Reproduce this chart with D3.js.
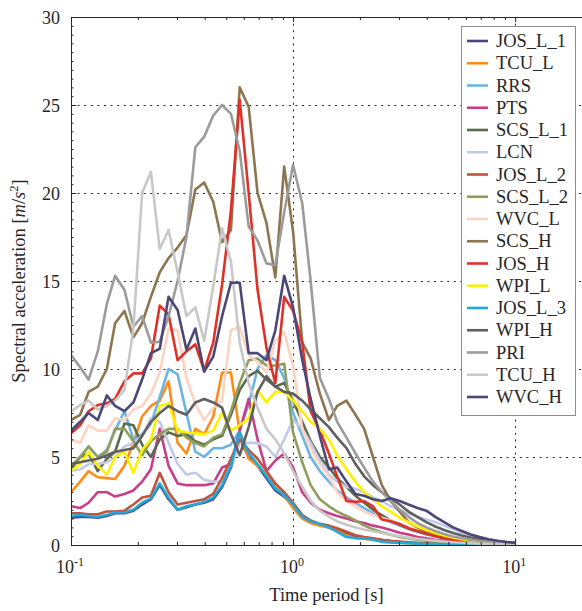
<!DOCTYPE html>
<html><head><meta charset="utf-8">
<script src="https://cdn.jsdelivr.net/npm/d3@7"></script>
<style>body{margin:0;background:#fff} text{font-family:"Liberation Serif","Times New Roman",serif;fill:#262626}</style>
</head><body><svg id="c" width="582" height="611"></svg>
<script>
// Periods (s)
const periods = [0.1,0.11,0.12,0.132,0.145,0.158,0.174,0.191,0.209,0.229,0.251,0.275,0.302,0.331,0.363,0.398,0.437,0.479,0.525,0.575,0.631,0.692,0.759,0.832,0.912,1.0,1.10,1.20,1.32,1.45,1.58,1.74,1.91,2.09,2.29,2.51,2.75,3.02,3.31,3.63,3.98,4.37,4.79,5.25,5.75,6.31,6.92,7.59,8.32,9.12,10.0];

// Spectral acceleration (m/s^2) per record
const JOS_L_1 = [1.55,1.6,1.6,1.55,1.65,1.8,1.8,1.95,2.3,2.6,3.4,2.6,2.0,2.15,2.3,2.4,2.6,3.3,4.4,6.0,5.0,4.5,3.8,3.1,2.75,2.2,1.55,1.3,1.15,1.0,0.85,0.65,0.5,0.42,0.35,0.28,0.22,0.17,0.13,0.1,0.08,0.06,0.05,0.04,0.035,0.03,0.025,0.02,0.02,0.015,0.01];
const TCU_L = [3.0,3.6,4.2,3.85,3.8,3.75,4.5,5.8,7.3,7.9,8.2,9.3,5.8,5.2,6.6,6.3,7.3,9.8,9.8,6.4,4.9,4.5,4.0,3.3,2.8,2.1,1.5,1.25,1.1,1.0,0.8,0.55,0.38,0.35,0.3,0.22,0.17,0.13,0.1,0.08,0.06,0.05,0.04,0.035,0.03,0.025,0.02,0.018,0.015,0.012,0.01];
const RRS = [4.4,5.0,5.6,5.0,5.4,6.5,7.6,6.0,6.3,6.9,8.4,10.0,9.7,7.5,5.3,5.0,5.5,5.5,5.7,6.5,8.0,10.0,10.8,10.5,9.5,7.5,6.2,5.0,4.2,3.6,3.1,2.7,2.4,2.1,1.8,1.5,1.3,1.1,0.9,0.75,0.6,0.5,0.4,0.3,0.25,0.2,0.15,0.12,0.1,0.08,0.06];
const PTS = [2.2,2.1,2.4,3.0,3.0,2.75,2.9,3.1,3.6,4.3,6.6,4.5,3.5,3.4,3.4,3.4,3.5,4.4,4.6,6.5,8.3,6.0,4.2,4.8,5.2,4.4,3.0,2.4,2.0,1.8,1.65,1.5,1.35,1.25,1.1,1.0,0.85,0.7,0.6,0.45,0.38,0.3,0.25,0.2,0.16,0.13,0.1,0.08,0.06,0.05,0.04];
const SCS_L_1 = [4.3,5.0,5.2,4.2,4.9,5.3,6.9,6.8,5.7,5.0,6.0,6.4,6.2,6.3,5.9,5.7,6.0,6.2,7.4,8.8,9.6,9.9,9.4,9.0,9.2,8.2,7.0,5.9,5.0,4.4,3.8,3.3,2.8,2.4,2.0,1.7,1.4,1.15,0.95,0.78,0.64,0.52,0.42,0.34,0.27,0.21,0.16,0.12,0.09,0.07,0.05];
const LCN = [4.2,4.3,4.6,4.6,4.7,5.0,5.6,5.8,6.2,7.2,7.0,5.8,4.6,4.0,4.1,3.7,3.6,3.6,4.5,5.8,5.8,5.8,5.6,5.0,6.0,7.1,6.6,5.8,4.8,4.0,3.6,3.3,3.2,3.0,2.7,2.5,2.2,2.0,1.8,1.6,1.45,1.3,1.1,0.9,0.7,0.55,0.42,0.32,0.24,0.18,0.13];
const JOS_L_2 = [1.8,1.8,1.75,1.75,1.9,1.9,1.95,2.3,2.7,2.8,4.1,3.0,2.3,2.4,2.5,2.6,2.9,3.8,4.9,6.0,5.4,4.9,4.2,3.5,3.0,2.4,1.7,1.4,1.2,1.1,0.95,0.75,0.55,0.45,0.38,0.3,0.24,0.19,0.15,0.12,0.1,0.08,0.06,0.05,0.04,0.035,0.03,0.025,0.02,0.018,0.015];
const SCS_L_2 = [4.5,5.0,5.6,5.0,5.3,6.6,6.6,5.9,5.1,5.9,6.3,6.6,6.6,6.1,5.8,5.6,6.1,6.3,7.6,9.2,10.5,10.6,10.2,10.2,10.3,6.4,4.7,3.4,2.6,2.2,1.9,1.65,1.4,1.1,0.9,0.72,0.58,0.46,0.37,0.3,0.24,0.19,0.15,0.12,0.1,0.08,0.06,0.05,0.04,0.03,0.025];
const WVC_L = [6.0,5.8,6.8,6.5,6.5,7.2,7.1,7.7,7.9,8.6,9.8,12.3,12.2,9.5,8.0,7.1,7.8,8.2,12.2,12.4,10.8,10.4,9.8,11.6,12.1,10.2,6.6,5.5,4.6,3.9,3.0,2.5,2.2,1.9,1.7,1.55,1.4,1.2,1.0,0.85,0.7,0.55,0.45,0.37,0.3,0.24,0.19,0.15,0.12,0.1,0.08];
const SCS_H = [7.1,7.4,8.7,9.0,10.0,12.6,13.3,11.8,12.6,14.1,15.5,16.3,16.9,17.6,20.2,20.6,19.5,17.2,17.9,26.0,24.9,20.0,18.3,15.2,21.5,17.8,11.5,10.6,8.6,7.1,7.9,8.2,7.4,6.6,5.0,3.4,2.5,1.9,1.3,1.0,0.75,0.6,0.45,0.35,0.28,0.22,0.17,0.13,0.1,0.08,0.06];
const JOS_H = [6.35,6.8,7.6,7.95,8.05,8.3,9.3,9.75,9.75,10.6,13.6,13.1,10.5,11.0,11.4,9.9,11.5,14.8,19.0,25.3,20.0,14.5,11.2,9.2,14.1,13.3,11.5,7.6,6.5,5.2,3.9,2.5,2.45,2.5,2.2,1.45,1.35,1.2,0.95,0.8,0.65,0.5,0.38,0.3,0.22,0.17,0.13,0.1,0.08,0.06,0.05];
const WPI_L = [4.2,4.6,5.3,4.5,4.0,5.0,5.3,4.1,5.4,6.0,7.9,8.05,6.5,6.4,6.35,6.3,6.5,7.5,6.5,6.8,7.2,8.8,8.1,8.7,8.7,8.2,7.6,7.0,6.6,6.0,5.1,4.3,3.6,3.0,2.6,2.2,1.9,1.55,1.3,1.05,0.85,0.68,0.54,0.42,0.33,0.26,0.2,0.15,0.12,0.09,0.07];
const JOS_L_3 = [1.65,1.7,1.65,1.6,1.7,1.85,1.85,2.0,2.4,2.65,3.5,2.7,2.0,2.2,2.3,2.45,2.7,3.4,4.5,6.4,5.2,4.6,3.9,3.2,2.85,2.3,1.6,1.35,1.2,1.0,0.75,0.45,0.4,0.38,0.3,0.18,0.15,0.12,0.1,0.08,0.06,0.05,0.04,0.035,0.03,0.025,0.02,0.018,0.015,0.012,0.01];
const WPI_H = [4.6,4.7,4.8,4.9,5.1,5.3,5.4,5.5,6.2,7.0,7.5,7.9,7.6,7.4,8.1,8.3,8.1,7.8,6.3,5.1,6.7,8.7,9.6,9.0,8.7,8.6,8.2,7.7,7.2,6.7,6.1,5.5,4.6,3.9,3.4,3.0,2.65,2.3,1.9,1.6,1.3,1.05,0.85,0.68,0.54,0.43,0.34,0.27,0.21,0.16,0.12];
const PRI = [10.8,10.1,9.4,11.0,13.7,15.3,14.5,12.4,13.0,11.5,11.55,13.0,15.0,17.5,22.6,23.2,24.4,25.0,24.5,22.4,18.1,17.3,16.0,15.9,18.9,21.6,19.4,15.0,9.5,8.3,7.0,6.1,5.2,4.4,3.6,3.0,2.5,2.0,1.6,1.25,1.0,0.8,0.62,0.48,0.38,0.3,0.23,0.18,0.14,0.11,0.08];
const TCU_H = [7.6,7.95,8.2,7.7,7.9,8.2,8.8,12.3,20.0,21.2,16.8,17.9,15.5,13.0,13.5,11.6,14.7,18.0,16.1,11.5,9.2,7.8,6.6,6.0,5.2,4.2,3.3,2.5,1.95,1.6,1.35,1.15,1.0,0.88,0.78,0.68,0.58,0.5,0.42,0.35,0.3,0.25,0.2,0.16,0.13,0.1,0.08,0.07,0.06,0.05,0.04];
const WVC_H = [6.5,7.0,7.5,7.1,8.5,7.9,7.6,8.1,9.4,10.9,11.15,14.1,13.35,11.1,12.3,9.85,10.7,13.0,14.9,14.9,10.9,10.9,10.5,12.2,15.3,13.5,10.5,8.3,6.2,4.3,4.4,3.6,2.9,2.8,2.6,2.5,2.65,2.5,2.3,2.1,1.95,1.6,1.3,1.0,0.8,0.6,0.45,0.33,0.24,0.17,0.12];

const seriesNames = ["JOS_L_1","TCU_L","RRS","PTS","SCS_L_1","LCN","JOS_L_2","SCS_L_2","WVC_L","SCS_H","JOS_H","WPI_L","JOS_L_3","WPI_H","PRI","TCU_H","WVC_H"];
const seriesValues = [JOS_L_1,TCU_L,RRS,PTS,SCS_L_1,LCN,JOS_L_2,SCS_L_2,WVC_L,SCS_H,JOS_H,WPI_L,JOS_L_3,WPI_H,PRI,TCU_H,WVC_H];
const seriesColors = ["#4a4683","#ff8c1a","#6cb4e4","#c83e8a","#5a6a4c","#c3c9e8","#c0533e","#8e9e5c","#fdd3c2","#8d7550","#e03127","#fff000","#21a8d8","#606060","#9b9b9b","#c8c8c8","#4b4878"];

const yTicks = [0,5,10,15,20,25,30];
const yMinor = d3.range(0, 30.01, 0.5);
const xMajor = [0.1,1,10];
const xMajorExp = ["-1","0","1"];
const xMinor = [0.2,0.3,0.4,0.5,0.6,0.7,0.8,0.9,2,3,4,5,6,7,8,9];

const W=582,H=611,L=71,R=582,T=17,B=545;
const svg=d3.select("#c");
const x=d3.scaleLog().domain([0.1,20]).range([L,R]);
const y=d3.scaleLinear().domain([0,30]).range([B,T]);
const ink="#262626";

svg.append("rect").attr("width",W).attr("height",H).attr("fill","#fff");

// grid
const grid=svg.append("g").attr("stroke",ink).attr("stroke-width",1).attr("stroke-dasharray","2,4.6");
grid.selectAll("line.h").data(yTicks.filter(v=>v>0&&v<30)).join("line")
  .attr("x1",L).attr("x2",R).attr("y1",d=>y(d)+0.5).attr("y2",d=>y(d)+0.5);
grid.selectAll("line.v").data([1,10]).join("line")
  .attr("x1",d=>Math.round(x(d))+0.5).attr("x2",d=>Math.round(x(d))+0.5).attr("y1",T).attr("y2",B);

// lines
svg.append("clipPath").attr("id","clip").append("rect").attr("x",L).attr("y",T).attr("width",R-L).attr("height",B-T);
const line=d3.line().x(d=>x(d[0])).y(d=>y(d[1]));
const lg=svg.append("g").attr("clip-path","url(#clip)");
seriesValues.forEach((vals,i)=>{
  lg.append("path").datum(periods.map((p,j)=>[p,vals[j]]))
    .attr("d",line).attr("fill","none").attr("stroke",seriesColors[i])
    .attr("stroke-width",2.6).attr("stroke-linejoin","round");
});

// axes ticks (inward)
function clean(g){g.select(".domain").remove(); g.selectAll(".tick line").attr("stroke",ink);}
svg.append("g").attr("transform",`translate(${L},0)`)
  .call(d3.axisLeft(y).tickValues(yMinor).tickSize(-2.5).tickFormat("")).call(clean);
svg.append("g").attr("transform",`translate(${L},0)`)
  .call(d3.axisLeft(y).tickValues(yTicks).tickSize(-5).tickPadding(11).tickFormat(d3.format("d")))
  .call(clean).call(g=>g.selectAll("text").attr("font-size",18).attr("fill",ink)
     .attr("font-family",'"Liberation Serif",serif').attr("dy","0.34em"));
svg.append("g").attr("transform",`translate(0,${B})`)
  .call(d3.axisBottom(x).tickValues(xMinor).tickSize(-3).tickFormat("")).call(clean);
svg.append("g").attr("transform",`translate(0,${B})`)
  .call(d3.axisBottom(x).tickValues(xMajor).tickSize(-5).tickFormat("")).call(clean);
svg.append("g").attr("transform",`translate(0,${T})`)
  .call(d3.axisTop(x).tickValues(xMinor).tickSize(-3).tickFormat("")).call(clean);
svg.append("g").attr("transform",`translate(0,${T})`)
  .call(d3.axisTop(x).tickValues(xMajor).tickSize(-5).tickFormat("")).call(clean);

// box
svg.append("rect").attr("x",L+0.5).attr("y",T+0.5).attr("width",R-L).attr("height",B-T)
  .attr("fill","none").attr("stroke",ink).attr("stroke-width",1);

// x tick labels 10^n
xMajor.forEach((v,i)=>{
  const t=svg.append("text").attr("x",x(v)-1).attr("y",573).attr("text-anchor","middle").attr("font-size",18);
  t.append("tspan").text("10");
  t.append("tspan").attr("dy",-7).attr("font-size",12).text(xMajorExp[i]);
});

// axis titles
svg.append("text").attr("x",(L+R)/2).attr("y",601).attr("text-anchor","middle").attr("font-size",18.5).text("Time period [s]");
const yl=svg.append("text").attr("transform","translate(25,281) rotate(-90)").attr("text-anchor","middle").attr("font-size",18.5);
yl.append("tspan").text("Spectral acceleration [");
yl.append("tspan").attr("font-style","italic").text("m");
yl.append("tspan").text("/");
yl.append("tspan").attr("font-style","italic").text("s");
yl.append("tspan").attr("dy",-7).attr("font-size",12.5).text("2");
yl.append("tspan").attr("dy",7).text("]");

// legend
const leg=svg.append("g");
leg.append("rect").attr("x",461.5).attr("y",26.5).attr("width",114).attr("height",389)
  .attr("fill","#fff").attr("stroke","#8c8c8c").attr("stroke-width",1);
seriesNames.forEach((n,i)=>{
  const cy=41+i*22.25;
  leg.append("line").attr("x1",467).attr("x2",488).attr("y1",cy).attr("y2",cy)
    .attr("stroke",seriesColors[i]).attr("stroke-width",2.6);
  leg.append("text").attr("x",496).attr("y",cy+6).attr("font-size",18.5).text(n);
});
</script></body></html>
